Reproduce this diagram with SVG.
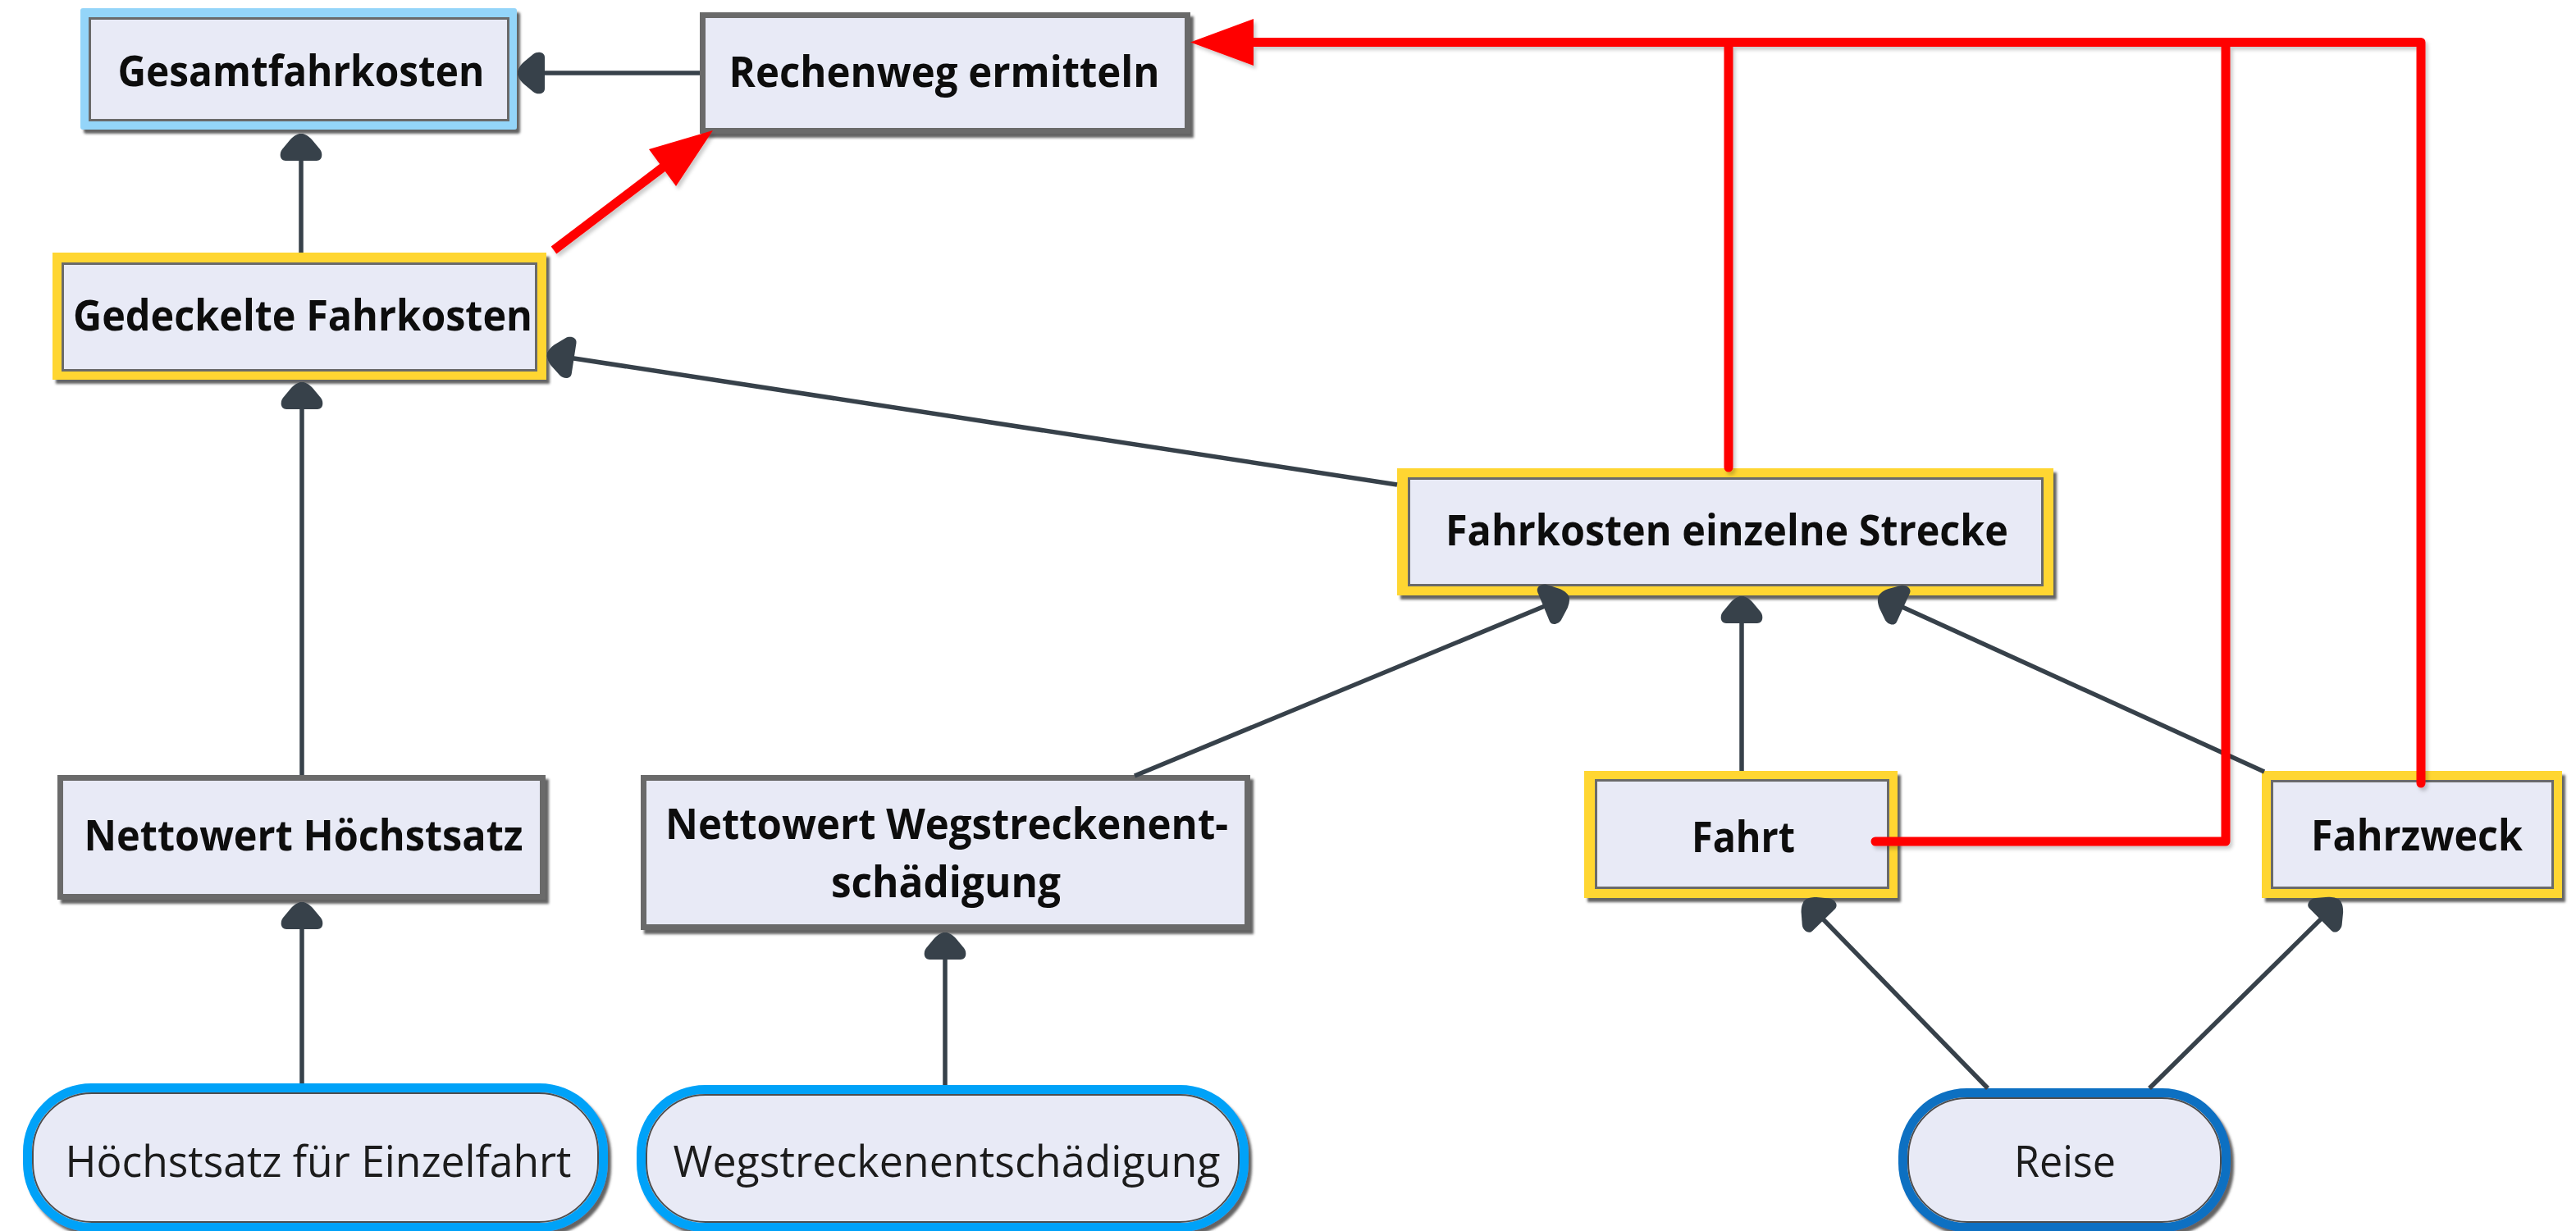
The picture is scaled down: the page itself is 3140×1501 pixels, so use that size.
<svg xmlns="http://www.w3.org/2000/svg" width="3140" height="1501" viewBox="0 0 3140 1501">
  <defs>
    <style>
      .box{fill:#e8eaf6;stroke:#6b6b6b;stroke-width:7}
      .inner{fill:#e8eaf6;stroke:#6b6b6b;stroke-width:3}
      .yel{fill:#ffd633}
      .sky{fill:#94d5f9}
      .lbl{font-family:"Open Sans","Liberation Sans",sans-serif;font-weight:700;font-size:52px;fill:#0d0d0d;text-anchor:middle}
      .olbl{font-family:"Open Sans","Liberation Sans",sans-serif;font-weight:400;font-size:53px;fill:#1a1a1a;text-anchor:middle}
      .oval{fill:#e8eaf6;stroke-width:11}
      .ovline{fill:none;stroke:#4d4d4d;stroke-width:2}
      .edge{fill:none;stroke:#37414a;stroke-width:5.5;marker-end:url(#head)}
      .red{fill:none;stroke:#ff0000;stroke-width:11;stroke-linecap:round;stroke-linejoin:round}
      .redfill{fill:#ff0000}
    </style>
    <marker id="head" markerUnits="userSpaceOnUse" viewBox="-35 -28 37 56" markerWidth="37" markerHeight="56" refX="0" refY="0" orient="auto">
      <path d="M0,0 C0,-5 -3,-9 -7,-13 L-19,-23 C-24,-27 -33,-26 -33,-19 L-33,19 C-33,26 -24,27 -19,23 L-7,13 C-3,9 0,5 0,0 Z" fill="#37414a"/>
    </marker>
    <filter id="shadow" x="-5%" y="-10%" width="115%" height="125%">
      <feDropShadow dx="4" dy="5" stdDeviation="1.5" flood-color="#4a4a4a" flood-opacity="0.85"/>
    </filter>
    <filter id="rshadow" x="-5%" y="-5%" width="115%" height="115%">
      <feDropShadow dx="3" dy="4" stdDeviation="2" flood-color="#000" flood-opacity="0.2"/>
    </filter>
  </defs>

  <rect width="3140" height="1501" fill="#ffffff"/>

  <!-- nodes -->
  <g id="gesamtfahrkosten" filter="url(#shadow)">
    <rect class="sky" x="98" y="10" width="532" height="148" rx="3"/>
    <rect class="inner" x="109.5" y="22.5" width="510" height="124"/>
    <text class="lbl" x="367" y="105" textLength="447" lengthAdjust="spacingAndGlyphs">Gesamtfahrkosten</text>
  </g>

  <g id="rechenweg" filter="url(#shadow)">
    <rect class="box" x="856.5" y="18.5" width="591" height="141"/>
    <text class="lbl" x="1151" y="106" textLength="525" lengthAdjust="spacingAndGlyphs">Rechenweg ermitteln</text>
  </g>

  <g id="gedeckelte-fahrkosten" filter="url(#shadow)">
    <rect class="yel" x="64" y="308" width="602" height="155"/>
    <rect class="inner" x="76.5" y="321.5" width="577" height="130"/>
    <text class="lbl" x="369" y="403" textLength="560" lengthAdjust="spacingAndGlyphs">Gedeckelte Fahrkosten</text>
  </g>

  <g id="fahrkosten-einzelne-strecke" filter="url(#shadow)">
    <rect class="yel" x="1703" y="571" width="800" height="155"/>
    <rect class="inner" x="1717.5" y="583.5" width="772" height="130"/>
    <text class="lbl" x="2105" y="665" textLength="686" lengthAdjust="spacingAndGlyphs">Fahrkosten einzelne Strecke</text>
  </g>

  <g id="nettowert-hoechstsatz" filter="url(#shadow)">
    <rect class="box" x="73.5" y="948.5" width="588" height="145"/>
    <text class="lbl" x="370" y="1037" textLength="535" lengthAdjust="spacingAndGlyphs">Nettowert Höchstsatz</text>
  </g>

  <g id="nettowert-wegstreckenentschaedigung" filter="url(#shadow)">
    <rect class="box" x="784.5" y="948.5" width="736" height="182"/>
    <text class="lbl" x="1154" y="1023" textLength="686" lengthAdjust="spacingAndGlyphs">Nettowert Wegstreckenent-</text>
    <text class="lbl" x="1153" y="1094" textLength="280" lengthAdjust="spacingAndGlyphs">schädigung</text>
  </g>

  <g id="fahrt" filter="url(#shadow)">
    <rect class="yel" x="1931" y="940" width="382" height="155"/>
    <rect class="inner" x="1945.5" y="951.5" width="356" height="131"/>
    <text class="lbl" x="2125" y="1039" textLength="126" lengthAdjust="spacingAndGlyphs">Fahrt</text>
  </g>

  <g id="fahrzweck" filter="url(#shadow)">
    <rect class="yel" x="2757" y="940" width="366" height="155"/>
    <rect class="inner" x="2769.5" y="952.5" width="342" height="130"/>
    <text class="lbl" x="2946" y="1037" textLength="258" lengthAdjust="spacingAndGlyphs">Fahrzweck</text>
  </g>

  <g id="hoechstsatz-einzelfahrt" filter="url(#shadow)">
    <rect class="oval" x="33.5" y="1326.5" width="702" height="170" rx="78" ry="78" stroke="#00a2f8"/>
    <rect class="ovline" x="40" y="1333" width="689" height="157" rx="72" ry="72"/>
    <text class="olbl" x="388" y="1435" textLength="617" lengthAdjust="spacingAndGlyphs">Höchstsatz für Einzelfahrt</text>
  </g>

  <g id="wegstreckenentschaedigung" filter="url(#shadow)">
    <rect class="oval" x="781.5" y="1328.5" width="735" height="168" rx="78" ry="78" stroke="#00a2f8"/>
    <rect class="ovline" x="788" y="1335" width="722" height="155" rx="72" ry="72"/>
    <text class="olbl" x="1154" y="1435" textLength="667" lengthAdjust="spacingAndGlyphs">Wegstreckenentschädigung</text>
  </g>

  <g id="reise" filter="url(#shadow)">
    <rect class="oval" x="2319.5" y="1332.5" width="394" height="164" rx="78" ry="78" stroke="#0a6fc2"/>
    <rect class="ovline" x="2326" y="1339" width="381" height="151" rx="72" ry="72"/>
    <text class="olbl" x="2517" y="1435" textLength="124" lengthAdjust="spacingAndGlyphs">Reise</text>
  </g>

  <!-- connectors -->
  <g id="connectors">
    <path class="edge" d="M853,89 L631,89"/>
    <path class="edge" d="M367,308 L367,163"/>
    <path class="edge" d="M1703,591 L667,432"/>
    <path class="edge" d="M368,945 L368,466"/>
    <path class="edge" d="M368,1321 L368,1100"/>
    <path class="edge" d="M1152,1323 L1152,1137"/>
    <path class="edge" d="M1383,946 L1912,727"/>
    <path class="edge" d="M2123,940 L2123,727"/>
    <path class="edge" d="M2760,941 L2290,727"/>
    <path class="edge" d="M2423,1327 L2200,1098"/>
    <path class="edge" d="M2620,1327 L2852,1098"/>

    <!-- highlighted calculation path -->
    <g filter="url(#rshadow)">
      <path class="red" d="M2286,1026 H2713 V51.5"/>
      <path class="red" d="M2951,955 V51.5 H1522"/>
      <path class="red" d="M2107,570 V51.5"/>
      <polygon class="redfill" points="1451,51.5 1528,23 1528,80"/>
      <path class="red" style="stroke-linecap:butt" d="M675,305 L812,201"/>
      <polygon class="redfill" points="869,159 791,182 824,227"/>
    </g>
  </g>
</svg>
